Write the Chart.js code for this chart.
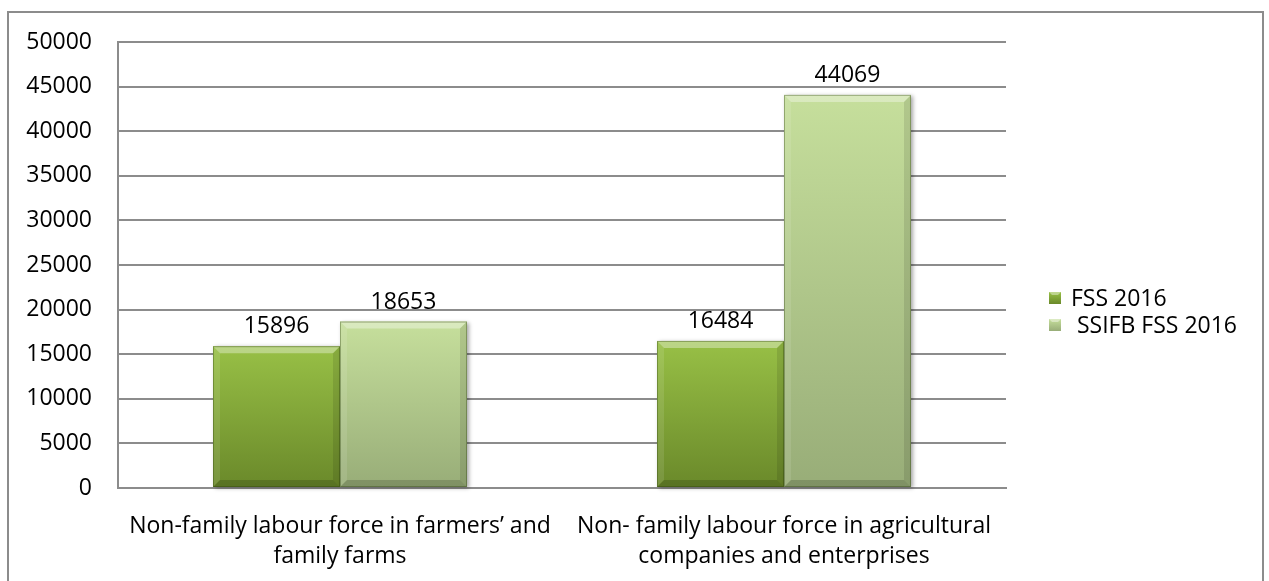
<!DOCTYPE html>
<html>
<head>
<meta charset="utf-8">
<title>Non-family labour force</title>
<script src="https://cdn.jsdelivr.net/npm/chart.js@4.4.1/dist/chart.umd.min.js"></script>
<style>
  html, body { margin: 0; padding: 0; background: #fff; }
  #wrap { width: 1269px; height: 581px; }
</style>
</head>
<body>
<div id="wrap"><canvas id="labour-chart" width="1269" height="581"></canvas></div>
<script>
// Data
const categories = [
  ["Non-family labour force in farmers’ and", "family farms"],
  ["Non- family labour force in agricultural", "companies and enterprises"]
];
const seriesNames = ["FSS 2016", " SSIFB FSS 2016"];
const fss2016 = [15896, 16484];
const ssifbFss2016 = [18653, 44069];
const yMax = 50000;
const yStep = 5000;

const FONT = "'Open Sans', Lato, sans-serif";
const FONT_SIZE = 23;

// top / bottom shades for the bevelled bars
const palettes = [
  { top: "#98c046", bottom: "#6a892a", flat: "#86ad3c" },
  { top: "#c6df9c", bottom: "#98ad78", flat: "#b3cc8c" }
];

const ctx = document.getElementById("labour-chart").getContext("2d");

// Grey frame around the whole figure
const framePlugin = {
  id: "frame",
  beforeDraw(chart) {
    const c = chart.ctx;
    c.save();
    c.strokeStyle = "#8c8c8c";
    c.lineWidth = 2;
    c.strokeRect(8, 12, 1255, 620);
    c.restore();
  }
};

// Gradient fill, bevel edges and value labels for every bar
const bevelPlugin = {
  id: "bevel",
  afterDatasetsDraw(chart) {
    const c = chart.ctx;
    chart.data.datasets.forEach((ds, i) => {
      const meta = chart.getDatasetMeta(i);
      const pal = palettes[i];
      meta.data.forEach((bar, j) => {
        const { x, y, base, width } = bar.getProps(["x", "y", "base", "width"], true);
        const l = x - width / 2, r = x + width / 2, t = y, b = base;
        const e = 7;

        c.save();
        c.shadowColor = "rgba(0,0,0,0.35)";
        c.shadowBlur = 4;
        c.shadowOffsetX = 2;
        c.shadowOffsetY = 1;
        const g = c.createLinearGradient(0, t, 0, b);
        g.addColorStop(0, pal.top);
        g.addColorStop(1, pal.bottom);
        c.fillStyle = g;
        c.fillRect(l, t, r - l, b - t);
        c.restore();

        const poly = (pts, fill) => {
          c.beginPath();
          c.moveTo(pts[0][0], pts[0][1]);
          pts.slice(1).forEach(p => c.lineTo(p[0], p[1]));
          c.closePath();
          c.fillStyle = fill;
          c.fill();
        };
        c.save();
        poly([[l, t], [r, t], [r - e, t + e], [l + e, t + e]], "rgba(255,255,255,0.35)");
        poly([[l, t], [l + e, t + e], [l + e, b - e], [l, b]], "rgba(255,255,255,0.10)");
        poly([[r, t], [r, b], [r - e, b - e], [r - e, t + e]], "rgba(0,0,0,0.10)");
        poly([[l, b], [r, b], [r - e, b - e], [l + e, b - e]], "rgba(0,0,0,0.16)");
        c.strokeStyle = "rgba(40,60,10,0.35)";
        c.lineWidth = 1;
        c.strokeRect(l + 0.5, t + 0.5, r - l - 1, b - t - 1);
        c.restore();

        // value label
        c.save();
        c.fillStyle = "#000";
        c.font = FONT_SIZE + "px " + FONT;
        c.textAlign = "center";
        c.textBaseline = "alphabetic";
        c.fillText(String(ds.data[j]), x, t - 13);
        c.restore();
      });
    });
  }
};

// Legend on the right with small bevelled squares
const legendPlugin = {
  id: "sideLegend",
  afterDraw(chart) {
    const c = chart.ctx;
    const area = chart.chartArea;
    const left = area.right + 43;
    const firstY = area.top + 256;
    const gap = 27;
    chart.data.datasets.forEach((ds, i) => {
      const cy = firstY + i * gap;
      const pal = palettes[i];
      c.save();
      const g = c.createLinearGradient(0, cy - 6, 0, cy + 6);
      g.addColorStop(0, pal.top);
      g.addColorStop(1, pal.bottom);
      c.fillStyle = g;
      c.fillRect(left, cy - 6, 12, 12);
      c.beginPath();
      c.moveTo(left, cy - 6);
      c.lineTo(left + 12, cy - 6);
      c.lineTo(left + 9, cy - 3);
      c.lineTo(left + 3, cy - 3);
      c.closePath();
      c.fillStyle = "rgba(255,255,255,0.4)";
      c.fill();
      c.fillStyle = "#000";
      c.font = FONT_SIZE + "px " + FONT;
      c.textAlign = "left";
      c.textBaseline = "middle";
      c.fillText(ds.label, left + 22, cy + 1);
      c.restore();
    });
  }
};

const labourChart = new Chart(ctx, {
  type: "bar",
  data: {
    labels: categories,
    datasets: [
      { label: seriesNames[0], data: fss2016, backgroundColor: palettes[0].flat },
      { label: seriesNames[1], data: ssifbFss2016, backgroundColor: palettes[1].flat }
    ]
  },
  options: {
    responsive: false,
    animation: false,
    devicePixelRatio: 1,
    layout: { padding: { top: 42, right: 263, bottom: 0, left: 0 } },
    datasets: {
      bar: { barPercentage: 1, categoryPercentage: 0.572 }
    },
    plugins: {
      legend: { display: false },
      tooltip: { enabled: false }
    },
    scales: {
      x: {
        grid: { display: false, drawTicks: false },
        border: { display: true, color: "#8c8c8c", width: 2 },
        ticks: {
          color: "#000",
          font: { family: FONT, size: FONT_SIZE, lineHeight: 1.3 },
          padding: 24,
          maxRotation: 0,
          minRotation: 0,
          autoSkip: false
        },
        afterFit(scale) { scale.height = 93; }
      },
      y: {
        min: 0,
        max: yMax,
        grid: { color: "#8c8c8c", lineWidth: 2, drawTicks: false },
        border: { display: true, color: "#8c8c8c", width: 2 },
        ticks: {
          stepSize: yStep,
          color: "#000",
          font: { family: FONT, size: FONT_SIZE },
          padding: 26,
          callback: v => String(v)
        },
        afterFit(scale) { scale.width = 118; }
      }
    }
  },
  plugins: [framePlugin, bevelPlugin, legendPlugin]
});
</script>
</body>
</html>
